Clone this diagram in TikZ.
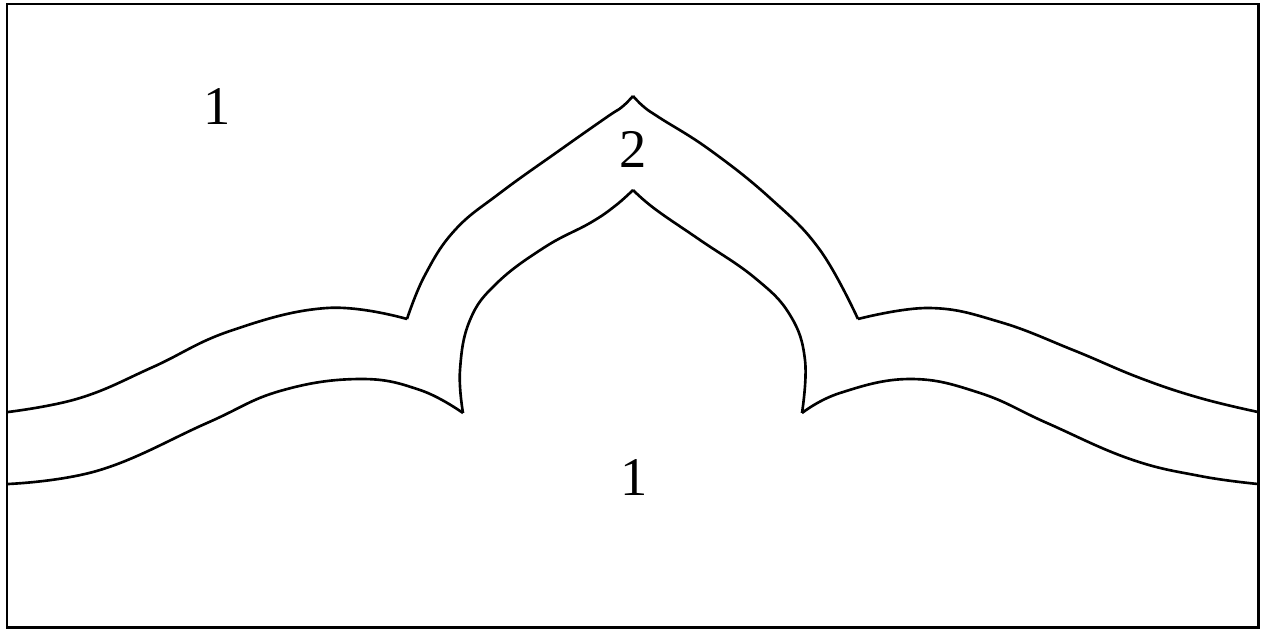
\documentclass[tikz,border=0pt]{standalone}
\usepackage{fontspec}
\setmainfont{Liberation Serif}
\usetikzlibrary{positioning}

\begin{document}
\begin{tikzpicture}[
            x=0.02cm, y=-0.02cm,
            frame/.style={draw, line width=1.7pt},
            bound/.style={line width=1.5pt, line join=round},
            lab/.style={font=\fontsize{31}{31}\selectfont, inner sep=0pt}
        ]

        \useasboundingbox (0,0) rectangle (1262,629);

        % Frame
        \draw[frame] (7,4) rectangle (1258,627);

        % Outer boundary of region 2
        \draw[bound] plot[smooth, tension=0.7] coordinates
            {(8,412) (80,398) (153,367) (230,331) (327,308) (407,319)};
        \draw[bound] plot[smooth, tension=0.7] coordinates
            {(407,319) (425,275) (455,230) (500,193) (560,150) (607,117) (622,107) (633,96)};
        \draw[bound] plot[smooth, tension=0.7] coordinates
            {(633,96) (644,107) (660,118) (710,150) (770,198) (820,250) (858,319)};
        \draw[bound] plot[smooth, tension=0.7] coordinates
            {(858,319) (930,308) (1000,322) (1073,350) (1140,378) (1200,398) (1258,412)};

        % Inner boundary of region 2
        \draw[bound] plot[smooth, tension=0.7] coordinates
            {(8,484) (100,470) (207,423) (280,391) (360,379) (420,390) (463,413)};
        \draw[bound] plot[smooth, tension=0.7] coordinates
            {(463,413) (460,370) (470,320) (497,283) (545,247) (590,223) (615,206) (633,190)};
        \draw[bound] plot[smooth, tension=0.7] coordinates
            {(633,190) (655,209) (700,240) (755,278) (790,315) (805,360) (802,413)};
        \draw[bound] plot[smooth, tension=0.7] coordinates
            {(802,413) (840,393) (910,379) (980,393) (1047,423) (1130,459) (1200,476) (1258,484)};

        % Region labels
        \node[lab] (outer) at (217,107) {1};
        \node[lab] (band) at (633,149) {2};
        \node[lab] (inner) at (634,478) {1};

\end{tikzpicture}
\end{document}
